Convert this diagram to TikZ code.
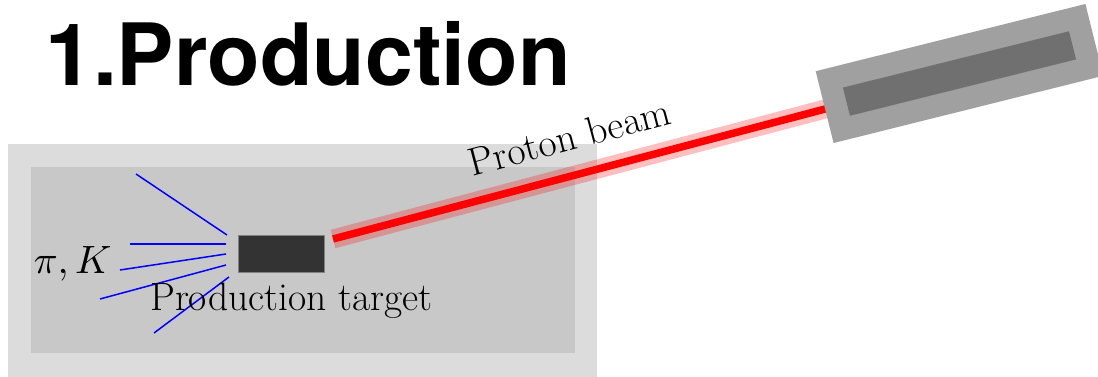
\documentclass[tikz,border=0pt]{standalone}
\usepackage{fontspec}
\newfontfamily\titlefont{TeX Gyre Heros}
\begin{document}
\begin{tikzpicture}[x=1pt,y=-1pt,
  lbl/.style={font=\fontsize{39.5}{44}\selectfont, inner sep=0pt},
  ray/.style={blue, line width=1.5pt},
]
\useasboundingbox (0,0) rectangle (1098,377);
% areas
\fill[fill={rgb,255:red,220;green,220;blue,220}] (8,144) rectangle (597,377);
\fill[fill={rgb,255:red,200;green,200;blue,200}] (31,167) rectangle (575,353);
% title
\node[anchor=base west, inner sep=0pt, font=\titlefont\bfseries\fontsize{86}{90}\selectfont] (title) at (45,86) {1.Production};
% target
\node[draw={rgb,255:red,130;green,130;blue,130}, line width=1pt, fill={rgb,255:red,51;green,51;blue,51}, minimum width=86pt, minimum height=37pt, inner sep=0pt] (target) at (281,253.5) {};
% beam
\coordinate (bstart) at (333,239);
\node[minimum width=278pt, minimum height=74pt, inner sep=0pt, rotate=14] (source) at (959.5,73.5) {};
\draw[red, opacity=0.25, line width=19pt] (bstart) -- (source.center);
\draw[red, line width=7.5pt] (bstart) -- (source.center);
\node[fill={rgb,255:red,160;green,160;blue,160}, minimum width=278pt, minimum height=74pt, inner sep=0pt, rotate=14] (sourceouter) at (source.center) {};
\node[fill={rgb,255:red,112;green,112;blue,112}, minimum width=233pt, minimum height=29pt, inner sep=0pt, rotate=14] (sourceinner) at (source.center) {};
\node[lbl, anchor=base, rotate=14.8] (beamlbl) at (573,150) {Proton beam};
% rays
\coordinate (r1a) at (136,174); \coordinate (r1b) at (227,235);
\coordinate (r2a) at (130,244); \coordinate (r2b) at (226,244);
\coordinate (r3a) at (120,270); \coordinate (r3b) at (226,254);
\coordinate (r4a) at (100,299); \coordinate (r4b) at (226,265);
\coordinate (r5a) at (154,333); \coordinate (r5b) at (229,277);
\draw[ray] (r1a) -- (r1b);
\draw[ray] (r2a) -- (r2b);
\draw[ray] (r3a) -- (r3b);
\draw[ray] (r4a) -- (r4b);
\draw[ray] (r5a) -- (r5b);
% labels
\node[inner sep=0pt, font=\normalsize, scale=3.95, anchor=base west] (pik) at (33,273) {$\pi, K$};
\node[lbl, anchor=base west] (tlbl) at (150,310) {Production target};
\end{tikzpicture}
\end{document}
